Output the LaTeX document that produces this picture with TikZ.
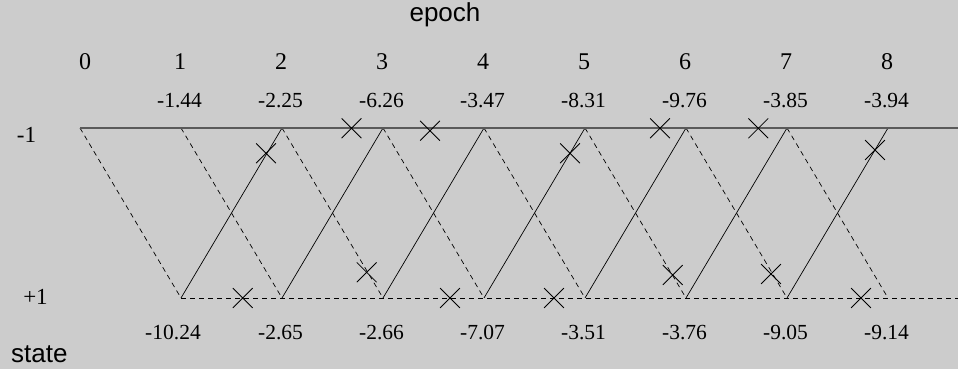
\documentclass[tikz,border=0pt]{standalone}
\usepackage{fontspec}
\setmainfont{Liberation Serif}
\newfontfamily\labsans{Liberation Sans}
\usetikzlibrary{shapes.misc}
\definecolor{bg}{RGB}{204,204,204}
\definecolor{topline}{RGB}{90,90,90}
\begin{document}
\begin{tikzpicture}[x=1pt,y=-1pt,
  mark/.style={},
  xmark/.style={draw=black,cross out,line width=0.8pt,minimum size=19pt,inner sep=0pt},
  dashline/.style={draw=black,line width=0.7pt,dash pattern=on 5pt off 4pt},
  solidline/.style={draw=black,line width=0.7pt},
  epochnum/.style={anchor=base,inner sep=0pt,font=\fontsize{24}{28}\selectfont},
  valnum/.style={anchor=base,inner sep=0pt,font=\fontsize{21.5}{25}\selectfont},
  statenum/.style={anchor=base,inner sep=0pt,font=\fontsize{23}{27}\selectfont},
  sanslab/.style={anchor=base,inner sep=0pt,font=\labsans\fontsize{26}{30}\selectfont}]
\fill[bg] (0,0) rectangle (958,369);
\useasboundingbox (0,0) rectangle (958,369);
% vertices
\foreach \k in {0,...,8}{
  \coordinate (T\k) at ({80+101*\k},128);
  \coordinate (B\k) at ({80+101*\k},298);
}
\coordinate (TE) at (958,128);
\coordinate (BE) at (958,298);
% lines
\foreach \k [evaluate=\k as \n using int(\k+1)] in {0,...,7}{
  \draw[dashline] (T\k) -- (B\n);
}
\foreach \k [evaluate=\k as \n using int(\k+1)] in {1,...,7}{
  \draw[solidline] (B\k) -- (T\n);
}
\draw[dashline] (B1) -- (BE);
\draw[topline,line width=1.4pt] (T0) -- (TE);
% crosses
\node[xmark] (x1) at (351.5,128.3) {};
\node[xmark] (x2) at (430,130.7) {};
\node[xmark] (x3) at (266,153.3) {};
\node[xmark] (x4) at (570,153.3) {};
\node[xmark] (x5) at (660,128.3) {};
\node[xmark] (x6) at (758.3,128.3) {};
\node[xmark] (x7) at (875,150) {};
\node[xmark] (x8) at (242.7,298) {};
\node[xmark] (x9) at (366.7,272.3) {};
\node[xmark] (x10) at (450,298) {};
\node[xmark] (x11) at (554,298) {};
\node[xmark] (x12) at (672.7,275) {};
\node[xmark] (x13) at (771,274) {};
\node[xmark] (x14) at (861,298) {};
% texts
\node[sanslab] (ep) at (445,21.7) {epoch};
\node[sanslab,anchor=base west] (st) at (11,362.7) {state};
\node[statenum] (sm) at (26.5,142) {-1};
\node[statenum] (sp) at (35.5,304.3) {+1};
\node[epochnum] (e0) at (85,70) {0};
\foreach \k in {1,...,8}{
  \node[epochnum] (e\k) at ({80+101*\k-1},70) {\k};
}
\foreach \k/\v in {1/-1.44,2/-2.25,3/-6.26,4/-3.47,5/-8.31,6/-9.76,7/-3.85,8/-3.94}{
  \node[valnum] (tv\k) at ({80+101*\k-1.5},107.3) {\v};
}
\node[valnum] (bv1) at (173,339) {-10.24};
\foreach \k/\v in {2/-2.65,3/-2.66,4/-7.07,5/-3.51,6/-3.76,7/-9.05,8/-9.14}{
  \node[valnum] (bv\k) at ({80+101*\k-1.5},339) {\v};
}
\end{tikzpicture}
\end{document}
